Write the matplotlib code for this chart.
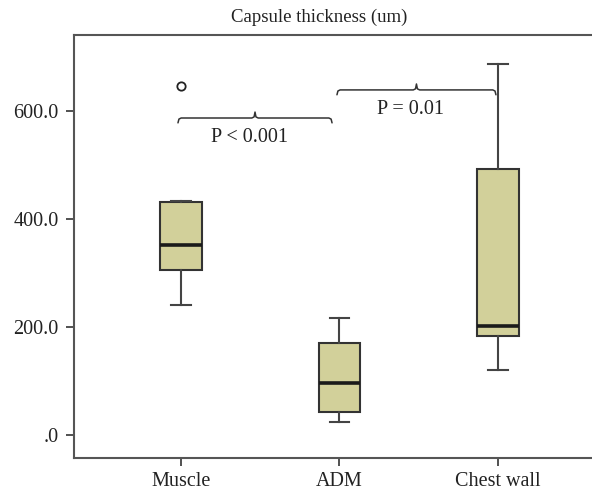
import matplotlib
matplotlib.use("Agg")
import matplotlib.pyplot as plt
import numpy as np

categories = ["Muscle", "ADM", "Chest wall"]
whisk_low = [241, 24, 120]
q1 = [305, 43, 183]
medians = [352, 96, 202]
q3 = [431, 170, 493]
whisk_high = [433, 217, 687]
outliers = [[646], [], []]
y_ticks = [0, 200, 400, 600]
y_tick_labels = [".0", "200.0", "400.0", "600.0"]
comparisons = [(1, 2, "P < 0.001", 587), (2, 3, "P = 0.01", 639)]

plt.rcParams['font.family'] = ['Liberation Serif', 'DejaVu Serif']

fig = plt.figure(figsize=(5.92, 4.91), dpi=100)
W, H = 592, 491
ax = fig.add_axes([74 / W, 1 - 458 / H, (592 - 74) / W, (458 - 35) / H])

stats = []
for i, c in enumerate(categories):
    stats.append(dict(label=c, whislo=whisk_low[i], q1=q1[i], med=medians[i],
                      q3=q3[i], whishi=whisk_high[i], fliers=outliers[i]))

positions = [1, 2, 3]
bp = ax.bxp(stats, positions=positions, widths=0.26, patch_artist=True,
            capwidths=0.12,
            boxprops=dict(facecolor="#d2d09a", edgecolor="#333333", linewidth=1.5),
            medianprops=dict(color="#1a1a1a", linewidth=2.6),
            whiskerprops=dict(color="#444444", linewidth=1.5),
            capprops=dict(color="#444444", linewidth=1.5),
            flierprops=dict(marker="o", markerfacecolor="white", markeredgecolor="#222222",
                            markersize=6, markeredgewidth=1.3))

ax.set_xlim(0.325, 3.593)
ax.set_ylim(-42.6, 740.7)
ax.set_yticks(y_ticks)
ax.set_yticklabels(y_tick_labels)
ax.set_xticks(positions)
ax.set_xticklabels(categories)
ax.tick_params(axis="both", labelsize=14.5, colors="#333333", width=1.2, length=6,
               labelcolor="#222222")
ax.tick_params(axis="x", pad=4)
ax.tick_params(axis="y", pad=5)
for s in ["right"]:
    ax.spines[s].set_visible(False)
for s in ["left", "top", "bottom"]:
    ax.spines[s].set_color("#555555")
    ax.spines[s].set_linewidth(1.5)

# curly brace brackets
ends = {(1, 2): (-0.019, -0.047), (2, 3): (-0.016, -0.013)}
for (a, b, label, yl) in comparisons:
    ea, eb = ends[(a, b)]
    xa, xb = a + ea, b + eb
    mid = (xa + xb) / 2
    r = 0.02
    dy = 9
    xs = [xa, xa + r * 0.3, xa + r, mid - r, mid - r * 0.3, mid, mid + r * 0.3, mid + r, xb - r, xb - r * 0.3, xb]
    ys = [yl - dy, yl - 2, yl, yl, yl + 2, yl + 11, yl + 2, yl, yl, yl - 2, yl - dy]
    ax.plot(xs, ys, color="#333333", linewidth=1.1, solid_capstyle="round")
    ax.text(mid - 0.035, yl - 18, label, ha="center", va="top", fontsize=14.5, color="#222222")

fig.text(319 / W, 1 - 17 / H, "Capsule thickness (um)", ha="center", va="center",
         fontsize=13.5, color="#222222")

fig.savefig("out.png", dpi=100)
